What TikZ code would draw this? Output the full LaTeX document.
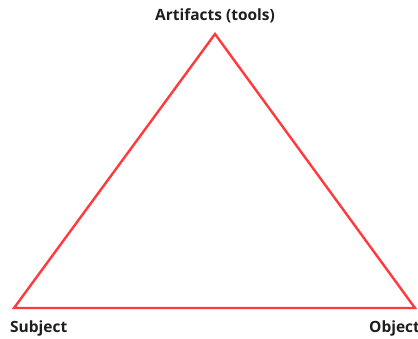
\documentclass[tikz,border=0pt]{standalone}
\usepackage{fontspec}
\setmainfont{Open Sans}
\definecolor{edgered}{HTML}{FF3A3F}
\definecolor{labelgray}{HTML}{1E1E1E}

\begin{document}
\begin{tikzpicture}[
  x=1pt, y=-1pt, % pixel grid of the reference
  side/.style={draw=edgered, line width=2.4pt, line join=miter},
  corner/.style={text=labelgray, font=\bfseries\fontsize{15.5}{18}\selectfont, inner sep=0pt}
]
\useasboundingbox (0,0) rectangle (418,338);

% Corners of the triangle
\coordinate (artifacts) at (215,34);
\coordinate (subject) at (14,308);
\coordinate (object) at (415,308);

% Labels
\node[corner] (artifactslabel) at (215,16) {Artifacts (tools)};
\node[corner, anchor=west] (subjectlabel) at (10,328) {Subject};
\node[corner, anchor=west] (objectlabel) at (369,328) {Object};

% Triangle
\draw[side] (artifacts) -- (subject) -- (object) -- cycle;

\end{tikzpicture}
\end{document}
